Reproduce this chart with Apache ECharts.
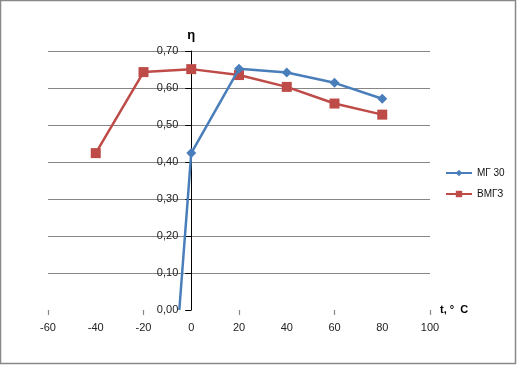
<!DOCTYPE html>
<html><head><meta charset="utf-8">
<script src="https://cdn.jsdelivr.net/npm/echarts@6/dist/echarts.min.js"></script>
<style>html,body{margin:0;padding:0;background:#fff}#c{width:517px;height:365px}</style>
</head><body><div id="c"></div>
<script>
const seriesNames = ['МГ 30', 'ВМГЗ'];
const mg30X = [-5, 0, 20, 40, 60, 80];
const mg30Y = [0.00, 0.424, 0.652, 0.642, 0.614, 0.571];
const vmgzX = [-40, -20, 0, 20, 40, 60, 80];
const vmgzY = [0.424, 0.643, 0.651, 0.635, 0.603, 0.558, 0.528];
const xTicks = [-60, -40, -20, 0, 20, 40, 60, 80, 100];
const yTicks = [0, 0.1, 0.2, 0.3, 0.4, 0.5, 0.6, 0.7];

const gridLeft = 48, gridRight = 87;
const plotW = 517 - gridLeft - gridRight;
const xMin = xTicks[0], xMax = xTicks[xTicks.length - 1];
const yAxisShift = (0 - xMin) / (xMax - xMin) * plotW;

const chart = echarts.init(document.getElementById('c'), null, {renderer: 'canvas'});
const font = 'Liberation Sans, Arial, sans-serif';
const mg30Data = mg30X.map((x, i) => {
  const d = {value: [x, mg30Y[i]]};
  if (i === 0) d.symbol = 'none';
  return d;
});
const vmgzData = vmgzX.map((x, i) => [x, vmgzY[i]]);

chart.setOption({
  animation: false,
  backgroundColor: '#fff',
  textStyle: {fontFamily: font},
  graphic: [{type: 'rect', shape: {x: 0.5, y: 0.5, width: 515, height: 363}, style: {fill: 'none', stroke: '#888', lineWidth: 1.5}, silent: true}],
  grid: {left: gridLeft, right: gridRight, top: 51, bottom: 55, containLabel: false},
  legend: {
    orient: 'vertical', left: 440, top: 163, itemGap: 11, itemWidth: 26, itemHeight: 8,
    textStyle: {fontSize: 10, color: '#111', fontFamily: font},
    data: seriesNames
  },
  xAxis: [{
    type: 'value', min: xMin, max: xMax, interval: 20,
    axisLine: {show: false, onZero: false}, axisTick: {show: false}, splitLine: {show: false},
    axisLabel: {fontSize: 11, color: '#222', margin: 12, fontFamily: font},
    name: 't, °  C', nameLocation: 'end', nameGap: 10,
    nameTextStyle: {fontSize: 11, fontWeight: 'bold', color: '#000', fontFamily: font, align: 'left', verticalAlign: 'middle', padding: [0, 0, 4, 0]}
  }, {
    type: 'value', min: -40, max: 120, interval: 40, position: 'bottom',
    axisLine: {show: true, onZero: false, lineStyle: {color: '#fff', width: 0.01}},
    axisLabel: {show: false}, splitLine: {show: false},
    axisTick: {show: true, inside: false, length: 5, lineStyle: {color: '#888', width: 1.2}}
  }],
  yAxis: {
    type: 'value', min: yTicks[0], max: yTicks[yTicks.length - 1], interval: 0.1,
    offset: -yAxisShift,
    axisLine: {show: true, onZero: false, lineStyle: {color: '#000', width: 1}},
    axisTick: {show: true, length: 6, lineStyle: {color: '#000'}},
    splitLine: {show: true, showMinLine: false, lineStyle: {color: '#868686', width: 1}},
    axisLabel: {fontSize: 11, color: '#222', margin: 13, fontFamily: font, formatter: v => v.toFixed(2).replace('.', ',')},
    name: 'η', nameLocation: 'end', nameGap: 9,
    nameTextStyle: {fontSize: 13, fontWeight: 'bold', color: '#000', fontFamily: font}
  },
  series: [{
    name: seriesNames[0], type: 'line', xAxisIndex: 0, data: mg30Data,
    symbol: 'diamond', symbolSize: 10, lineStyle: {color: '#4A7EBB', width: 2.5},
    itemStyle: {color: '#4A7EBB'}, color: '#4A7EBB', z: 3
  }, {
    name: seriesNames[1], type: 'line', xAxisIndex: 0, data: vmgzData,
    symbol: 'rect', symbolSize: 10, lineStyle: {color: '#BE4B48', width: 2.5},
    itemStyle: {color: '#BE4B48'}, color: '#BE4B48', z: 2
  }, {
    name: 'tickHelper', type: 'scatter', xAxisIndex: 1, data: [[-40, 0]], symbolSize: 0, silent: true
  }]
});
</script></body></html>
